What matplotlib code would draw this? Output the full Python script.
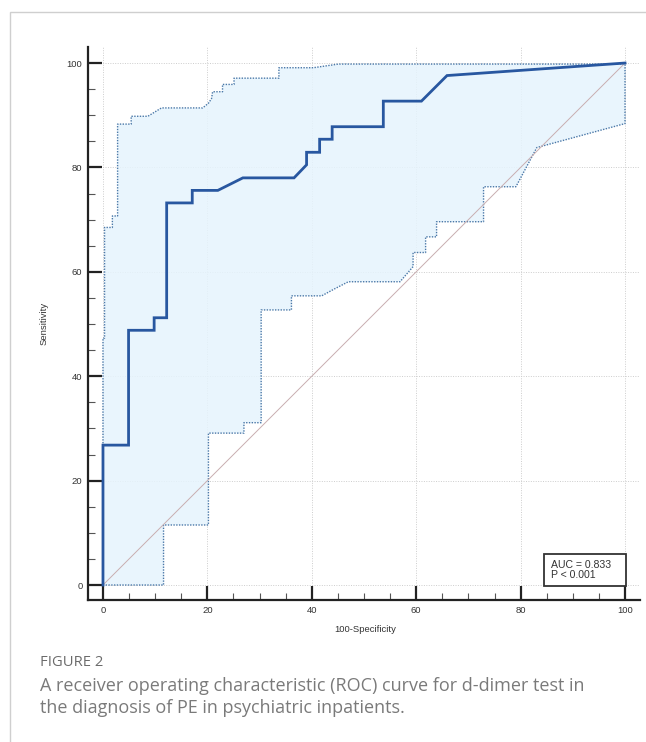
import numpy as np
import matplotlib
matplotlib.use("Agg")
import matplotlib.pyplot as plt
from matplotlib.patches import Rectangle

# ROC curve (100-specificity, sensitivity)
roc_x = [0, 0, 4.9, 4.9, 9.8, 9.8, 12.2, 12.2, 17.1, 17.1, 22.0, 26.8, 36.6, 39.0, 39.0,
         41.5, 41.5, 43.9, 43.9, 53.7, 53.7, 61.0, 65.9, 100]
roc_y = [0, 26.8, 26.8, 48.8, 48.8, 51.2, 51.2, 73.2, 73.2, 75.6, 75.6, 78.0, 78.0, 80.5, 82.9,
         82.9, 85.4, 85.4, 87.8, 87.8, 92.7, 92.7, 97.6, 100]

# 95% CI bands
upper_x = [0, 0, 0.3, 0.3, 1.8, 1.8, 2.8, 2.8, 5.4, 5.4, 8.6, 11.2, 19.1, 20.2, 20.8, 21.0,
           22.9, 22.9, 25.1, 25.1, 33.7, 33.7, 40.3, 45.1, 100]
upper_y = [0, 47.3, 47.3, 68.5, 68.5, 70.7, 70.7, 88.3, 88.3, 89.8, 89.8, 91.4, 91.4, 92.3, 93.2, 94.5,
           94.5, 95.9, 95.9, 97.1, 97.1, 99.1, 99.1, 99.8, 99.8]
lower_x = [0, 11.6, 11.6, 20.2, 20.2, 27.0, 27.0, 30.3, 30.3, 36.1, 36.1, 41.9, 44.1, 47.0, 56.9,
           59.4, 59.4, 61.8, 61.8, 63.9, 63.9, 72.9, 72.9, 79.1, 83.1, 100]
lower_y = [0, 0, 11.5, 11.5, 29.1, 29.1, 31.1, 31.1, 52.7, 52.7, 55.4, 55.4, 56.6, 58.1, 58.1,
           61.0, 63.7, 63.7, 66.7, 66.7, 69.6, 69.6, 76.3, 76.3, 83.8, 88.4]

ticks = [0, 20, 40, 60, 80, 100]
auc_text = "AUC = 0.833\nP < 0.001"
caption_title = "FIGURE 2"
caption = ("A receiver operating characteristic (ROC) curve for d-dimer test in\n"
           "the diagnosis of PE in psychiatric inpatients.")

W, H = 646, 742
fig = plt.figure(figsize=(W / 100, H / 100), dpi=100)
plt.rcParams['font.family'] = ['Liberation Sans', 'DejaVu Sans']

# outer frame
fig.add_artist(Rectangle((9.5 / W, -0.1), 2, (H - 12) / H + 0.1, transform=fig.transFigure,
                         fill=False, edgecolor='#cfcfcf', lw=1))

ax = fig.add_axes([88 / W, 1 - 600 / H, 552 / W, 553 / H])
ax.set_xlim(-2.87, 102.87)
ax.set_ylim(-2.87, 103.07)

ax.set_axisbelow(True)
ax.grid(True, which='major', color='#cdcdcd', linestyle=(0, (1, 1.5)), lw=0.7)

# confidence band
poly_x = np.concatenate([upper_x, lower_x[::-1]])
poly_y = np.concatenate([upper_y, lower_y[::-1]])
ax.fill(poly_x, poly_y, color='#e6f4fd', alpha=0.85, lw=0, zorder=1)
ax.plot(np.append(poly_x, poly_x[0]), np.append(poly_y, poly_y[0]),
        color='#4a78a8', linestyle=(0, (1, 1)), lw=1.0, zorder=2)

# chance line
ax.plot([0, 100], [0, 100], color='#c8aeb0', lw=0.7, zorder=2)

# ROC
ax.plot(roc_x, roc_y, color='#2857a0', lw=2.0, zorder=3, solid_joinstyle='miter')

# AUC box
ax.add_patch(Rectangle((84.5, -0.2), 15.7, 6.1, fill=True, fc='white', ec='#333333',
                       lw=1.3, zorder=4))
ax.text(85.9, 2.8, auc_text, fontsize=7.6, color='#333333', va='center', ha='left',
        linespacing=1.0, zorder=5)

for s in ['top', 'right']:
    ax.spines[s].set_visible(False)
for s in ['left', 'bottom']:
    ax.spines[s].set_linewidth(1.6)
    ax.spines[s].set_color('#222222')

ax.set_xticks(ticks)
ax.set_yticks(ticks)
ax.set_xticks(np.arange(5, 100, 5), minor=True)
ax.set_yticks(np.arange(5, 100, 5), minor=True)
ax.tick_params(which='major', direction='in', length=10, width=1.6, color='#222222',
               labelsize=6.8, labelcolor='#333333', pad=4)
ax.tick_params(which='minor', direction='in', length=5, width=0.8, color='#555555')

ax.set_xlabel("100-Specificity", fontsize=6.8, color='#333333')
ax.set_ylabel("Sensitivity", fontsize=6.8, color='#333333')
ax.xaxis.set_label_coords(0.502, -0.045)
ax.yaxis.set_label_coords(-0.072, 0.5)

fig.text(40 / W, 1 - 662 / H, caption_title, fontsize=10.6, color='#6b6b6b',
         family=['Open Sans', 'DejaVu Sans'], va='center', ha='left')
fig.text(40 / W, 1 - 677 / H, caption, fontsize=13, color='#7a7a7a',
         family=['Open Sans', 'DejaVu Sans'], va='top', ha='left', linespacing=1.32)

fig.savefig("out.png", dpi=100)
